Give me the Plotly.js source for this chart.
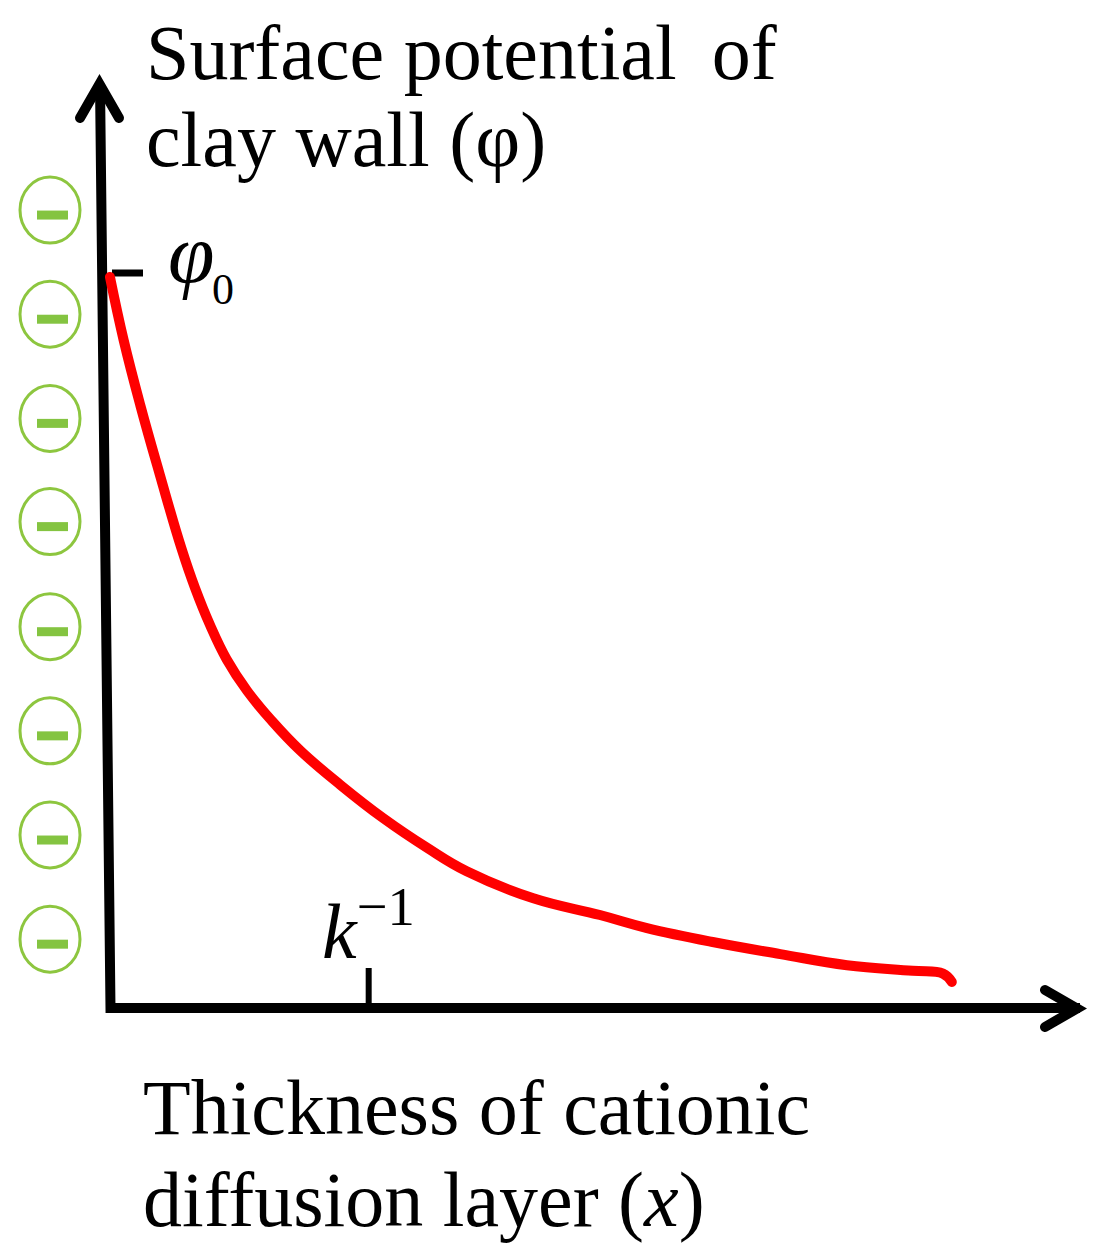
<!DOCTYPE html>
<html>
<head>
<meta charset="utf-8">
<script src="https://cdn.plot.ly/plotly-3.0.1.min.js"></script>
<style>
  html, body { margin: 0; padding: 0; background: #ffffff; }
  #chart { width: 1100px; height: 1260px; }
</style>
</head>
<body>
<div id="chart"></div>
<script>
// ---- data (schematic units: x = thickness, y = potential) ----
const thickness = [0.02, 0.16, 0.33, 0.53, 0.75, 0.89, 1.04, 1.21, 1.42, 1.67, 1.96, 2.37, 2.81, 3.26, 3.66, 4.34, 5.02, 5.50, 6.17, 6.86, 7.54, 8.21, 8.52, 8.61];
const potential = [7.86, 7.18, 6.48, 5.73, 4.94, 4.51, 4.12, 3.75, 3.41, 3.09, 2.77, 2.40, 2.04, 1.72, 1.47, 1.18, 1.00, 0.86, 0.71, 0.58, 0.46, 0.40, 0.37, 0.28];
const phi0 = 7.86;          // surface potential marker
const kInv = 2.66;          // Debye length marker
const chargeY = [8.58, 7.46, 6.34, 5.23, 4.10, 2.98, 1.86, 0.74]; // negative surface charges
const yTitleLines = ["Surface potential\u2009 of", "clay wall (φ)"];
const xTitleLines = ["Thickness of cationic", "diffusion layer (<i>x</i>)"];
const phiSymbol = "<i>φ</i>";
const phiSub = "0";
const kLabel = "<i>k</i><sup>−1</sup>";

// ---- layout helpers (pixel -> axis units) ----
const OX = 108, OY = 1008, SX = 98, SY = 93;
const U = px => (px - OX) / SX;
const V = py => (OY - py) / SY;

const green = "#8DC63F";
const serif = "Liberation Serif, Times New Roman, serif";

const shapes = [];
// axes (L shape)
shapes.push({type: "path", xref: "x", yref: "y", layer: "below",
  path: `M ${U(100)} ${V(84)} L ${U(110.5)} ${V(1008)} L ${U(1080)} ${V(1008)}`,
  line: {color: "#000", width: 10}});
// arrowheads
shapes.push({type: "path", xref: "x", yref: "y", layer: "below",
  path: `M ${U(80)} ${V(118)} L ${U(99.5)} ${V(84)} L ${U(119)} ${V(118)}`,
  line: {color: "#000", width: 10}});
shapes.push({type: "path", xref: "x", yref: "y", layer: "below",
  path: `M ${U(1045)} ${V(990)} L ${U(1077)} ${V(1008.5)} L ${U(1045)} ${V(1027)}`,
  line: {color: "#000", width: 10}});
// phi0 tick
shapes.push({type: "line", xref: "x", yref: "y", layer: "below",
  x0: U(112), x1: U(143), y0: V(273), y1: V(273), line: {color: "#000", width: 7}});
// k^-1 tick
shapes.push({type: "line", xref: "x", yref: "y", layer: "below",
  x0: kInv, x1: kInv, y0: V(1004), y1: V(968), line: {color: "#000", width: 6}});
// charges
const cx = U(50), rx = 30 / SX, ry = 33 / SY;
chargeY.forEach(cy => {
  shapes.push({type: "circle", xref: "x", yref: "y", layer: "below",
    x0: cx - rx, x1: cx + rx, y0: cy - ry, y1: cy + ry,
    line: {color: green, width: 3}, fillcolor: "rgba(0,0,0,0)"});
  const dy = -5 / SY;
  shapes.push({type: "rect", xref: "x", yref: "y", layer: "below",
    x0: U(37), x1: U(68), y0: cy + dy - 4.5 / SY, y1: cy + dy + 4.5 / SY,
    line: {width: 0}, fillcolor: "#84C441"});
});

const ann = [];
const titleFont = {family: serif, size: 78, color: "#000"};
ann.push({xref: "x", yref: "y", x: U(144), y: V(52), xanchor: "left", yanchor: "middle",
  text: yTitleLines[0], showarrow: false, font: titleFont});
ann.push({xref: "x", yref: "y", x: U(144), y: V(139), xanchor: "left", yanchor: "middle",
  text: yTitleLines[1], showarrow: false, font: titleFont});
ann.push({xref: "x", yref: "y", x: U(141), y: V(1107), xanchor: "left", yanchor: "middle",
  text: xTitleLines[0], showarrow: false, font: titleFont});
ann.push({xref: "x", yref: "y", x: U(141), y: V(1199), xanchor: "left", yanchor: "middle",
  text: xTitleLines[1], showarrow: false, font: titleFont});
ann.push({xref: "x", yref: "y", x: U(166), y: V(205), xanchor: "left", yanchor: "top",
  text: phiSymbol, showarrow: false, font: {family: serif, size: 84, color: "#000"}});
ann.push({xref: "x", yref: "y", x: U(210), y: V(263), xanchor: "left", yanchor: "top",
  text: phiSub, showarrow: false, font: {family: serif, size: 44, color: "#000"}});
ann.push({xref: "x", yref: "y", x: U(320), y: V(977), xanchor: "left", yanchor: "bottom",
  text: kLabel, showarrow: false, font: {family: serif, size: 78, color: "#000"}});

const trace = {
  x: thickness, y: potential, type: "scatter", mode: "lines",
  line: {color: "#FF0000", width: 10, shape: "spline", smoothing: 1.2},
  hoverinfo: "skip", cliponaxis: false
};

const layout = {
  width: 1100, height: 1260,
  margin: {l: 0, r: 0, t: 0, b: 0, pad: 0},
  paper_bgcolor: "#ffffff", plot_bgcolor: "#ffffff",
  showlegend: false,
  xaxis: {range: [U(0), U(1100)], visible: false, fixedrange: true},
  yaxis: {range: [V(1260), V(0)], visible: false, fixedrange: true},
  shapes: shapes, annotations: ann
};

Plotly.newPlot("chart", [trace], layout, {staticPlot: true, displayModeBar: false}).then(gd => {
  gd.querySelectorAll(".scatterlayer .js-line").forEach(p => {
    p.style.strokeLinecap = "round"; p.style.strokeLinejoin = "round";
  });
  gd.querySelectorAll(".shapelayer path").forEach(p => {
    const i = p.getAttribute("data-index");
    if (i === "1" || i === "2") { p.style.strokeLinecap = "round"; p.style.strokeLinejoin = "miter"; }
    if (i === "0") { p.style.strokeLinejoin = "miter"; }
  });
});
</script>
</body>
</html>
